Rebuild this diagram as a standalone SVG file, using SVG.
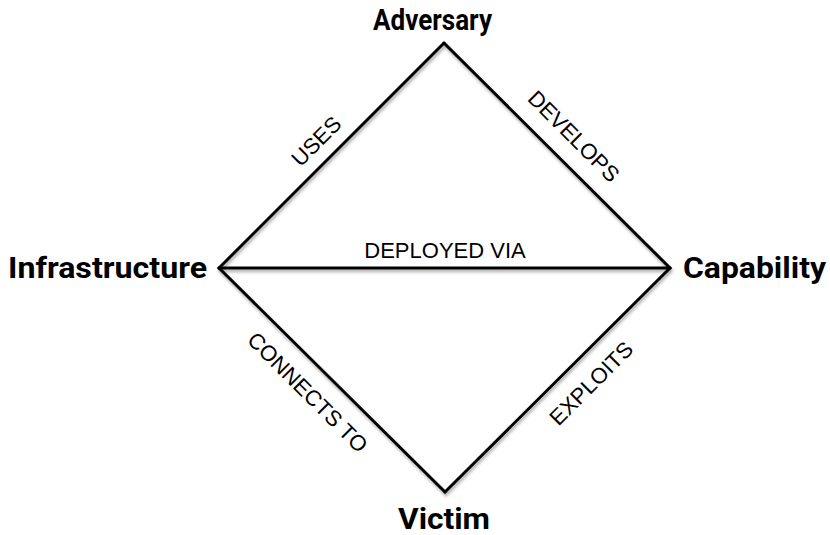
<svg xmlns="http://www.w3.org/2000/svg" width="830" height="535" viewBox="0 0 830 535">
  <style>
    .node { font-family: Roboto, "Liberation Sans", sans-serif; font-weight: 700; font-size: 30px; fill: #000; }
    .edge { stroke: #000; stroke-width: 3; stroke-linecap: round; fill: none; }
    .lbl { font-family: "Liberation Sans", Arial, sans-serif; font-size: 22px; fill: #000; text-anchor: middle; }
  </style>
  <defs>
    <filter id="shadow" x="-10%" y="-10%" width="120%" height="120%">
      <feDropShadow dx="1" dy="2.5" stdDeviation="1.5" flood-color="#000" flood-opacity="0.35"/>
    </filter>
  </defs>
  <rect width="830" height="535" fill="#fff"/>

  <!-- connectors of the diamond model -->
  <g id="connectors" filter="url(#shadow)">
    <line class="edge" x1="219" y1="268" x2="444" y2="43"/>
    <line class="edge" x1="444" y1="43" x2="670" y2="268"/>
    <line class="edge" x1="219" y1="268" x2="670" y2="268"/>
    <line class="edge" x1="219" y1="268" x2="445" y2="492"/>
    <line class="edge" x1="445" y1="492" x2="670" y2="268"/>
  </g>

  <!-- edge labels -->
  <g id="edge-labels">
    <text class="lbl" transform="translate(316,141) rotate(-45)" y="8">USES</text>
    <text class="lbl" transform="translate(574,136) rotate(45)" y="8">DEVELOPS</text>
    <text class="lbl" x="445" y="258">DEPLOYED VIA</text>
    <text class="lbl" transform="translate(308,392) rotate(45)" y="8">CONNECTS TO</text>
    <text class="lbl" transform="translate(591,383) rotate(-45)" y="8">EXPLOITS</text>
  </g>

  <!-- vertices -->
  <g id="adversary">
    <text class="node" x="373" y="30" textLength="119" lengthAdjust="spacingAndGlyphs">Adversary</text>
  </g>
  <g id="infrastructure">
    <text class="node" x="8" y="278" textLength="199" lengthAdjust="spacingAndGlyphs">Infrastructure</text>
  </g>
  <g id="capability">
    <text class="node" x="683" y="278" textLength="143" lengthAdjust="spacingAndGlyphs">Capability</text>
  </g>
  <g id="victim">
    <text class="node" x="398" y="529" textLength="92" lengthAdjust="spacingAndGlyphs">Victim</text>
  </g>
</svg>
